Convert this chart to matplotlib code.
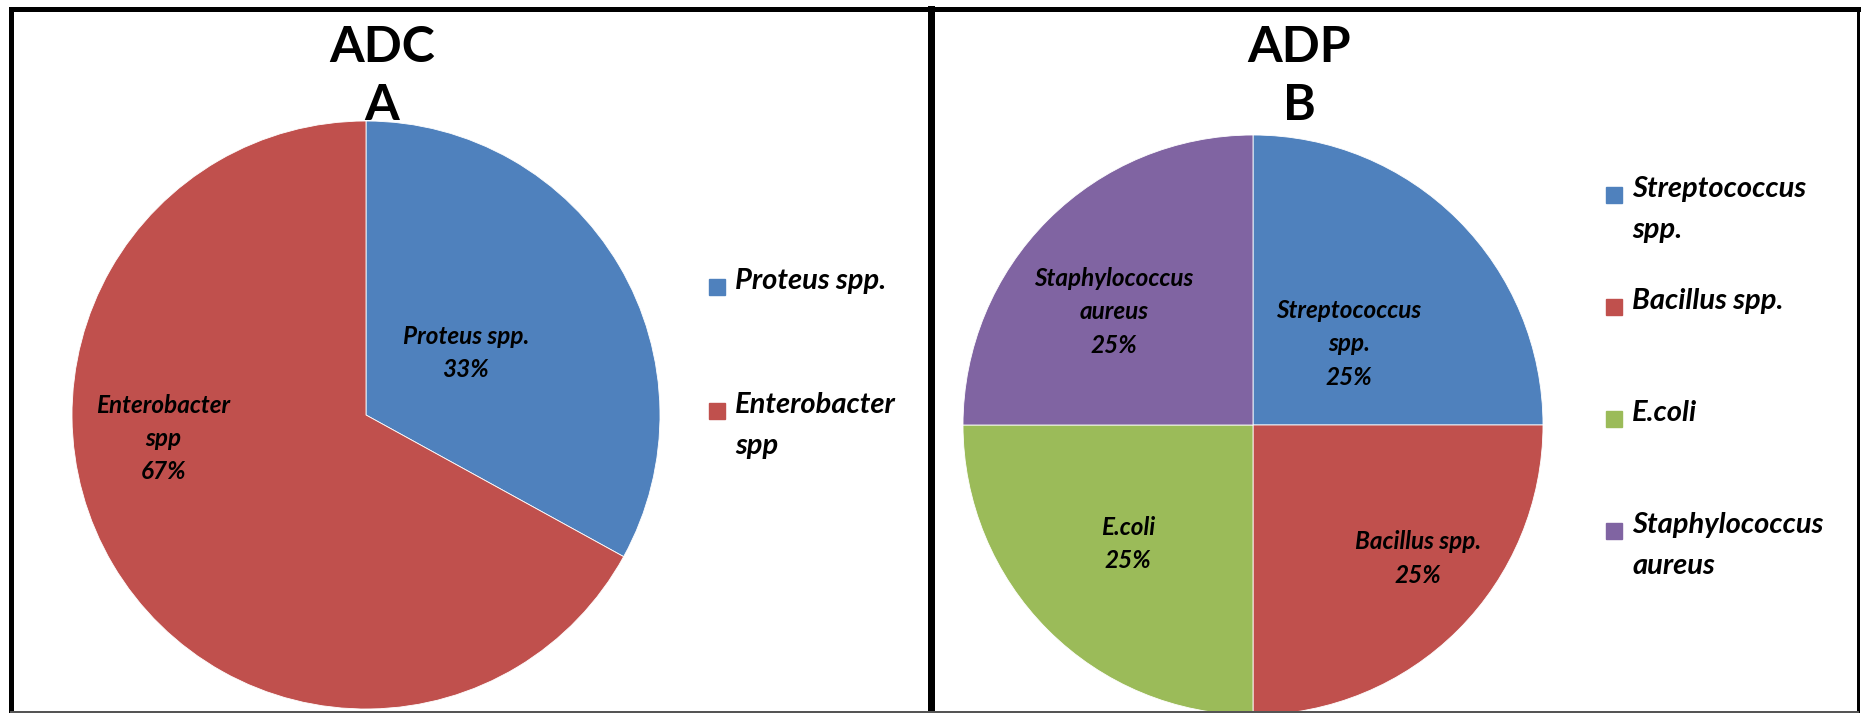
import matplotlib
matplotlib.use("Agg")
from matplotlib import pyplot as plt
from matplotlib.lines import Line2D
from matplotlib.patches import Rectangle

# Panel A - ADC isolates
adc_names = ["Proteus spp.", "Enterobacter\nspp"]
adc_pct = [33, 67]
adc_colors = ["#4F81BD", "#C0504D"]
adc_legend = ["Proteus spp.", "Enterobacter\nspp"]

# Panel B - ADP isolates
adp_names = ["Streptococcus\nspp.", "Bacillus spp.", "E.coli", "Staphylococcus\naureus"]
adp_pct = [25, 25, 25, 25]
adp_colors = ["#4F81BD", "#C0504D", "#9BBB59", "#8064A2"]
adp_legend = ["Streptococcus\nspp.", "Bacillus spp.", "E.coli", "Staphylococcus\naureus"]

W, H = 1861, 713
fig = plt.figure(figsize=(W / 100, H / 100), dpi=100)
fig.patch.set_facecolor("white")

LABEL_FONT = ["Lato", "DejaVu Sans"]
TITLE_FONT = ["Liberation Sans Narrow", "Lato", "DejaVu Sans"]
LEG_SIZE = 21


def px_line(xs, ys, lw, color="black"):
    """draw a line given in pixel coords (origin top-left)"""
    fig.add_artist(Line2D([x / W for x in xs], [1 - y / H for y in ys],
                          transform=fig.transFigure, lw=lw * 0.72, color=color,
                          solid_capstyle="projecting"))


def pie_panel(cx, cy, r, values, names, colors, label_pos):
    ax = fig.add_axes([(cx - r) / W, (H - cy - r) / H, 2 * r / W, 2 * r / H])
    ax.pie(values, colors=colors, startangle=90, counterclock=False,
           radius=1, wedgeprops=dict(edgecolor="white", linewidth=0.6))
    ax.set_xlim(-1, 1)
    ax.set_ylim(-1, 1)
    ax.axis("off")
    for name, val, (x, y) in zip(names, values, label_pos):
        ax.text(x, y, "%s\n%d%%" % (name, val), ha="center", va="center",
                fontsize=17.5, fontweight="bold", style="italic",
                family=LABEL_FONT, linespacing=1.55)
    return ax


def legend_panel(x, ys, labels, colors):
    # first text line is centred on the colour key
    top_off = 0.66 * LEG_SIZE * 100 / 72
    for y, lab, c in zip(ys, labels, colors):
        fig.add_artist(Rectangle(((x - 8) / W, 1 - (y + 8) / H), 16 / W, 16 / H,
                                 transform=fig.transFigure, color=c))
        fig.text((x + 18) / W, 1 - (y - top_off) / H, lab, ha="left", va="top",
                 fontsize=LEG_SIZE, fontweight="bold", style="italic",
                 family=LABEL_FONT, linespacing=1.72)


# pies
pie_panel(366, 415, 294, adc_pct, adc_names, adc_colors,
          [(0.34, 0.21), (-0.69, -0.08)])
pie_panel(1253, 425, 290, adp_pct, adp_names, adp_colors,
          [(0.33, 0.28), (0.57, -0.46), (-0.43, -0.41), (-0.48, 0.39)])

# titles
for x, t1, t2 in [(382, "ADC", "A"), (1299, "ADP", "B")]:
    fig.text(x / W, 1 - 48 / H, t1, ha="center", va="center", fontsize=36,
             fontweight="bold", family=TITLE_FONT)
    fig.text(x / W, 1 - 105 / H, t2, ha="center", va="center", fontsize=36,
             fontweight="bold", family=TITLE_FONT)

# legends
legend_panel(717, [287, 411], adc_legend, adc_colors)
legend_panel(1614, [195, 307, 419, 531], adp_legend, adp_colors)

# panel frames
px_line([10.5, 1858], [9, 9], 5)
px_line([10.5, 10.5], [9, 711], 5)
px_line([930.5, 930.5], [9, 711], 7)
px_line([1858, 1858], [9, 711], 3)
px_line([10.5, 1858], [711.5, 711.5], 2, color="#555555")

fig.savefig("out.png", dpi=100, facecolor="white")
